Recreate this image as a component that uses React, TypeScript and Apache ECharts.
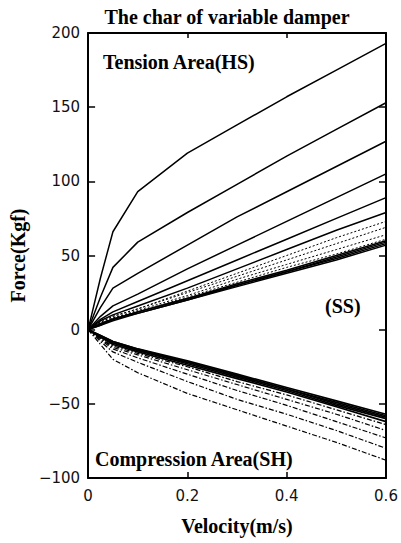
import React, { useEffect, useRef } from "react";
import * as echarts from "echarts";

const velocity = [0, 0.025, 0.05, 0.1, 0.2, 0.3, 0.4, 0.5, 0.6];

// Tension side (solid)
const tensionSolid = [
  [0, 35, 66, 93, 119, 138, 157, 175, 193],
  [0, 22, 42, 59, 79, 98, 117, 135, 153],
  [0, 15, 28, 38, 57, 76, 93, 110, 127],
  [0, 9, 16, 24, 41, 57, 73, 89, 105],
  [0, 7, 12, 19, 33, 47, 61, 75, 89],
  [0, 6, 10, 16, 28, 41, 54, 67, 79],
];
// Tension side (dotted)
const tensionDotted = [
  [0, 5, 9, 14, 26, 38, 50, 62, 73],
  [0, 5, 9, 14, 25, 36, 47, 58, 69],
  [0, 4, 8, 13, 23, 34, 44, 54, 64],
  [0, 4, 8, 12, 22, 32, 42, 51, 61],
];
// Tension side soft bundle (solid)
const tensionBundle = [
  [0, 4, 7, 12, 21, 31, 40, 50, 60],
  [0, 4, 7, 12, 21, 30, 39, 49, 59],
  [0, 3, 7, 11, 20, 30, 39, 48, 58],
  [0, 3, 6, 11, 20, 29, 38, 47, 57],
];
// Compression side bundle (solid)
const compressionBundle = [
  [0, -4, -8, -13, -21, -30, -39, -48, -57],
  [0, -4, -8, -13, -22, -31, -40, -49, -58],
  [0, -5, -9, -14, -22, -31, -40, -50, -59],
  [0, -5, -9, -14, -23, -32, -41, -51, -60],
  [0, -5, -10, -15, -24, -33, -42, -52, -62],
];
// Compression side (dash-dot)
const compressionDashDot = [
  [0, -6, -11, -16, -25, -35, -44, -54, -64],
  [0, -6, -12, -17, -27, -37, -47, -57, -68],
  [0, -7, -13, -19, -30, -41, -51, -62, -73],
  [0, -8, -15, -22, -35, -47, -57, -68, -80],
  [0, -10, -20, -29, -43, -54, -65, -76, -88],
];

const xTicks = [0, 0.2, 0.4, 0.6];
const yTicks = [-100, -50, 0, 50, 100, 150, 200];

const serif = "'Liberation Serif', 'Times New Roman', serif";
const sans = "'DejaVu Sans', sans-serif";

function toPairs(vals: number[]) {
  return vals.map((v, i) => [velocity[i], v]);
}

export default function App() {
  const ref = useRef<HTMLDivElement>(null);
  useEffect(() => {
    document.body.style.margin = "0";
    if (!ref.current) return;
    const chart = echarts.init(ref.current, null, { renderer: "svg" });
    const series: any[] = [];
    const mk = (vals: number[], type: any, width: number, name: string) => ({
      type: "line",
      name,
      data: toPairs(vals),
      symbol: "none",
      silent: true,
      lineStyle: { color: "#000", width, type },
    });
    tensionSolid.forEach((v, i) => series.push(mk(v, "solid", 1.5, "T" + i)));
    tensionDotted.forEach((v, i) => series.push(mk(v, [2, 2], 1, "TD" + i)));
    tensionBundle.forEach((v, i) => series.push(mk(v, "solid", 1.5, "TB" + i)));
    compressionBundle.forEach((v, i) => series.push(mk(v, "solid", 1.7, "CB" + i)));
    compressionDashDot.forEach((v, i) => series.push(mk(v, [5, 2, 1.5, 2], 1.2, "CD" + i)));

    const axisLine = { show: true, onZero: false, lineStyle: { color: "#000", width: 2 } };
    chart.setOption({
      animation: false,
      title: {
        text: "The char of variable damper",
        left: 222,
        top: 2,
        textAlign: "center",
        textStyle: { fontFamily: serif, fontWeight: "bold", fontSize: 20, color: "#000" },
      },
      grid: { left: 86, right: 15, top: 33, bottom: 65 },
      xAxis: [
        {
          type: "value",
          min: xTicks[0],
          max: xTicks[xTicks.length - 1],
          interval: 0.2,
          position: "bottom",
          axisLine,
          axisTick: { show: true, inside: true, length: 6, lineStyle: { color: "#000", width: 1.5 } },
          splitLine: { show: false },
          axisLabel: {
            fontFamily: sans,
            fontSize: 15,
            color: "#111",
            margin: 10,
            formatter: (v: number) => (v === 0 ? "0" : String(+v.toFixed(1))),
          },
          name: "Velocity(m/s)",
          nameLocation: "middle",
          nameGap: 38,
          nameTextStyle: { fontFamily: serif, fontWeight: "bold", fontSize: 20, color: "#000" },
        },
        {
          type: "value",
          min: xTicks[0],
          max: xTicks[xTicks.length - 1],
          interval: 0.2,
          position: "top",
          axisLine,
          axisTick: { show: true, inside: true, length: 5, lineStyle: { color: "#000", width: 1.5 } },
          axisLabel: { show: false },
          splitLine: { show: false },
        },
      ],
      yAxis: [
        {
          type: "value",
          min: yTicks[0],
          max: yTicks[yTicks.length - 1],
          interval: 50,
          position: "left",
          axisLine,
          axisTick: { show: true, inside: true, length: 7, lineStyle: { color: "#000", width: 1.5 } },
          splitLine: { show: false },
          axisLabel: {
            fontFamily: sans,
            fontSize: 15,
            color: "#111",
            margin: 8,
            formatter: (v: number) => String(v).replace("-", "\u2212"),
          },
          name: "Force(Kgf)",
          nameLocation: "middle",
          nameGap: 58,
          nameRotate: 90,
          nameTextStyle: { fontFamily: serif, fontWeight: "bold", fontSize: 20, color: "#000" },
        },
        {
          type: "value",
          min: yTicks[0],
          max: yTicks[yTicks.length - 1],
          interval: 50,
          position: "right",
          axisLine,
          axisTick: { show: true, inside: true, length: 7, lineStyle: { color: "#000", width: 1.5 } },
          axisLabel: { show: false },
          splitLine: { show: false },
        },
      ],
      graphic: [
        {
          type: "text",
          left: 103,
          top: 52,
          style: { text: "Tension Area(HS)", font: `bold 20px ${serif}`, fill: "#000" },
        },
        {
          type: "text",
          left: 325,
          top: 296,
          style: { text: "(SS)", font: `bold 20px ${serif}`, fill: "#000" },
        },
        {
          type: "text",
          left: 95,
          top: 449,
          style: { text: "Compression Area(SH)", font: `bold 20px ${serif}`, fill: "#000" },
        },
      ],
      series,
    });
    return () => chart.dispose();
  }, []);
  return <div ref={ref} style={{ width: 401, height: 543 }} />;
}
